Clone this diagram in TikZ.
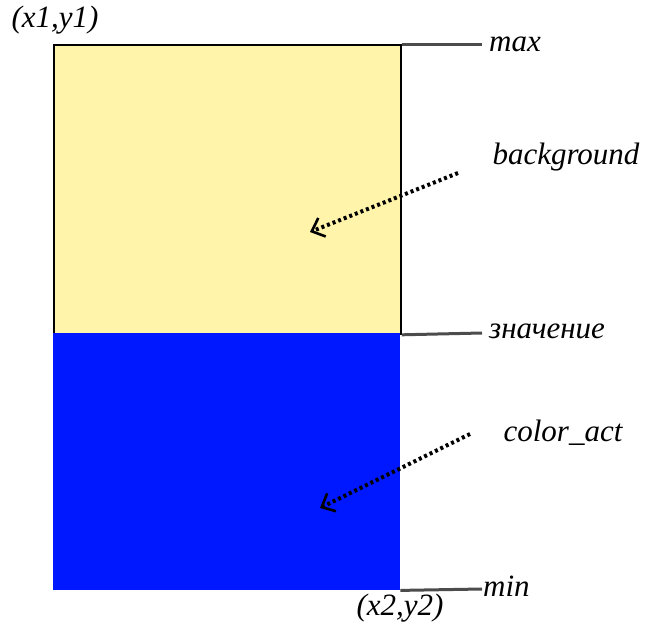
\documentclass[tikz,border=0pt]{standalone}
\usepackage{fontspec}
\setmainfont{Liberation Serif}
\usetikzlibrary{arrows.meta}
\begin{document}
\begin{tikzpicture}[x=1pt,y=-1pt,
  lbl/.style={font=\fontsize{31}{33}\selectfont\itshape, inner sep=0pt},
  tick/.style={draw=black!70, line width=3pt},
  ptr/.style={draw=black, line width=4pt, dash pattern=on 3pt off 3pt, -{Straight Barb[length=11pt,width=20pt,line width=2.6pt]}}]
\useasboundingbox (0,0) rectangle (648,627);
\node[draw=black, line width=1.8pt, fill={rgb,255:red,255;green,244;blue,170}, minimum width=347pt, minimum height=289pt, inner sep=0pt, anchor=north west] (bg) at (53,44) {};
\node[fill={rgb,255:red,0;green,24;blue,255}, minimum width=347pt, minimum height=257pt, inner sep=0pt, anchor=north west] (act) at (53,333) {};
\node[lbl, anchor=west] (max) at (489,44) {max};
\node[lbl, anchor=west] (val) at (489,331) {значение};
\node[lbl, anchor=west] (min) at (483,586) {min};
\node[lbl] (p1) at (55,20) {(x1,y1)};
\node[lbl] (p2) at (400,608) {(x2,y2)};
\node[lbl] (tbg) at (566,157) {background};
\node[lbl] (tact) at (563,433) {color\_act};
\coordinate (e1) at (482,44);
\coordinate (e2) at (482,333);
\coordinate (e3) at (482,589);
\draw[tick] (bg.north east) -- (e1);
\draw[tick] (bg.south east) -- (e2);
\draw[tick] (act.south east) -- (e3);
\coordinate (a1) at (458,173);
\coordinate (b1) at (310,232);
\coordinate (a2) at (470,434);
\coordinate (b2) at (320,508);
\draw[ptr] (a1) -- (b1);
\draw[ptr] (a2) -- (b2);
\end{tikzpicture}
\end{document}
